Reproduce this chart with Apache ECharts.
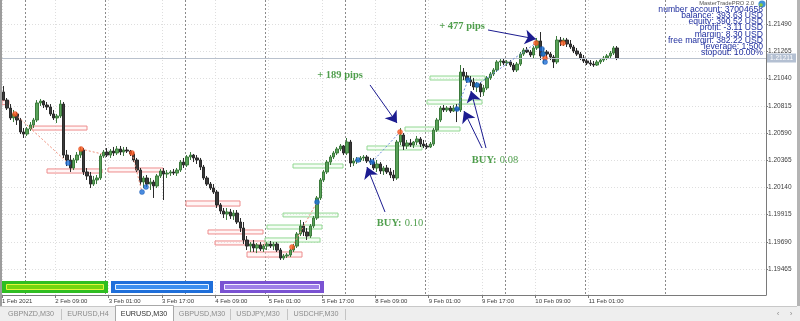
<!DOCTYPE html>
<html><head><meta charset="utf-8">
<script src="https://cdn.jsdelivr.net/npm/echarts@6/dist/echarts.min.js"></script>
<style>html,body{margin:0;padding:0;background:#fff;overflow:hidden}#c{width:800px;height:321px}</style>
</head><body><div id="c"></div>
<script>
// ---- data (EURUSD, hourly slots) ----
const timeLabels = ['1 Feb 2021','2 Feb 09:00','3 Feb 01:00','3 Feb 17:00','4 Feb 09:00','5 Feb 01:00','5 Feb 17:00','8 Feb 09:00','9 Feb 01:00','9 Feb 17:00','10 Feb 09:00','11 Feb 01:00'];
const labelSlots = [-0.5,15.5,31.5,47.5,63.5,79.5,95.5,111.5,127.5,143.5,159.5,175.5];
const daySeparators = [6.5,30.5,54.5,78.5,102.5,126.5,150.5,174.5,198.5];
const priceTicks = [1.19465,1.19690,1.19915,1.20140,1.20365,1.20590,1.20815,1.21040,1.21265,1.21490];
const lastPrice = 1.21211;

const opens = [1.20930,1.20863,1.20797,1.20715,1.20748,1.20698,1.20599,1.20582,1.20624,1.20657,
1.20698,1.20839,1.20855,1.20822,1.20806,1.20748,1.20715,1.20731,1.20830,1.20408,
1.20367,1.20301,1.20367,1.20408,1.20450,1.20268,1.20235,1.20168,1.20202,1.20218,
1.20400,1.20433,1.20408,1.20441,1.20425,1.20458,1.20433,1.20450,1.20441,1.20417,
1.20367,1.20284,1.20185,1.20218,1.20168,1.20185,1.20152,1.20235,1.20276,1.20251,
1.20259,1.20268,1.20259,1.20284,1.20350,1.20326,1.20392,1.20408,1.20384,1.20367,
1.20309,1.20218,1.20168,1.20135,1.20102,1.19995,1.19945,1.19920,1.19937,1.19904,
1.19928,1.19854,1.19804,1.19705,1.19655,1.19672,1.19639,1.19664,1.19631,1.19655,
1.19672,1.19655,1.19672,1.19622,1.19556,1.19573,1.19581,1.19622,1.19655,1.19755,
1.19821,1.19771,1.19738,1.19821,1.19887,1.20053,1.20202,1.20268,1.20350,1.20392,
1.20425,1.20458,1.20483,1.20425,1.20516,1.20342,1.20359,1.20367,1.20384,1.20392,
1.20359,1.20350,1.20301,1.20334,1.20276,1.20301,1.20268,1.20243,1.20218,1.20516,
1.20574,1.20483,1.20508,1.20491,1.20516,1.20541,1.20499,1.20483,1.20475,1.20499,
1.20615,1.20698,1.20797,1.20781,1.20797,1.20772,1.20797,1.20781,1.21095,1.21062,
1.21029,1.21012,1.20971,1.20996,1.20930,1.20963,1.21046,1.21079,1.21112,1.21178,
1.21186,1.21170,1.21178,1.21153,1.21112,1.21161,1.21244,1.21277,1.21261,1.21236,
1.21294,1.21352,1.21228,1.21261,1.21244,1.21219,1.21178,1.21360,1.21343,1.21360,
1.21327,1.21302,1.21269,1.21244,1.21211,1.21186,1.21170,1.21161,1.21153,1.21178,
1.21194,1.21211,1.21228,1.21252,1.21294];

const closes = [1.20863,1.20797,1.20715,1.20748,1.20698,1.20599,1.20582,1.20624,1.20657,1.20698,
1.20839,1.20855,1.20822,1.20806,1.20748,1.20715,1.20731,1.20830,1.20408,1.20367,
1.20301,1.20367,1.20408,1.20450,1.20268,1.20235,1.20168,1.20202,1.20218,1.20400,
1.20433,1.20408,1.20441,1.20425,1.20458,1.20433,1.20450,1.20441,1.20417,1.20367,
1.20284,1.20185,1.20218,1.20168,1.20185,1.20152,1.20235,1.20276,1.20251,1.20259,
1.20268,1.20259,1.20284,1.20350,1.20326,1.20392,1.20408,1.20384,1.20367,1.20309,
1.20218,1.20168,1.20135,1.20102,1.19995,1.19945,1.19920,1.19937,1.19904,1.19928,
1.19854,1.19804,1.19705,1.19655,1.19672,1.19639,1.19664,1.19631,1.19655,1.19672,
1.19655,1.19672,1.19622,1.19556,1.19573,1.19581,1.19622,1.19655,1.19755,1.19821,
1.19771,1.19738,1.19821,1.19887,1.20053,1.20202,1.20268,1.20350,1.20392,1.20425,
1.20458,1.20483,1.20425,1.20516,1.20342,1.20359,1.20367,1.20384,1.20392,1.20359,
1.20350,1.20301,1.20334,1.20276,1.20301,1.20268,1.20243,1.20218,1.20516,1.20574,
1.20483,1.20508,1.20491,1.20516,1.20541,1.20499,1.20483,1.20475,1.20499,1.20615,
1.20698,1.20797,1.20781,1.20797,1.20772,1.20797,1.20781,1.21095,1.21062,1.21029,
1.21012,1.20971,1.20996,1.20930,1.20963,1.21046,1.21079,1.21112,1.21178,1.21186,
1.21170,1.21178,1.21153,1.21112,1.21161,1.21244,1.21277,1.21261,1.21236,1.21294,
1.21352,1.21228,1.21261,1.21244,1.21219,1.21178,1.21360,1.21343,1.21360,1.21327,
1.21302,1.21269,1.21244,1.21211,1.21186,1.21170,1.21161,1.21153,1.21178,1.21194,
1.21211,1.21228,1.21252,1.21294,1.21211];

const highs = [1.20979,1.20880,1.20830,1.20781,1.20764,1.20715,1.20632,1.20640,1.20681,1.20715,
1.20863,1.20872,1.20863,1.20847,1.20830,1.20781,1.20748,1.20863,1.20847,1.20450,
1.20408,1.20384,1.20433,1.20475,1.20466,1.20301,1.20268,1.20235,1.20243,1.20417,
1.20450,1.20466,1.20458,1.20475,1.20483,1.20483,1.20475,1.20475,1.20450,1.20433,
1.20384,1.20301,1.20235,1.20243,1.20218,1.20202,1.20251,1.20293,1.20301,1.20284,
1.20284,1.20293,1.20301,1.20367,1.20384,1.20408,1.20433,1.20417,1.20408,1.20384,
1.20326,1.20235,1.20185,1.20168,1.20119,1.20011,1.19970,1.19970,1.19962,1.19953,
1.19953,1.19887,1.19854,1.19738,1.19688,1.19705,1.19680,1.19688,1.19672,1.19688,
1.19697,1.19688,1.19688,1.19639,1.19589,1.19597,1.19631,1.19672,1.19771,1.19871,
1.19854,1.19804,1.19837,1.19904,1.20069,1.20218,1.20284,1.20367,1.20408,1.20441,
1.20475,1.20499,1.20491,1.20549,1.20533,1.20384,1.20392,1.20400,1.20408,1.20408,
1.20384,1.20384,1.20367,1.20350,1.20317,1.20326,1.20301,1.20284,1.20533,1.20632,
1.20590,1.20533,1.20541,1.20524,1.20566,1.20557,1.20533,1.20508,1.20516,1.20632,
1.20715,1.20814,1.20822,1.20814,1.20814,1.20822,1.20830,1.21153,1.21128,1.21095,
1.21062,1.21046,1.21012,1.21012,1.20988,1.21062,1.21095,1.21128,1.21194,1.21211,
1.21203,1.21194,1.21194,1.21170,1.21178,1.21261,1.21294,1.21302,1.21277,1.21310,
1.21377,1.21426,1.21294,1.21277,1.21261,1.21236,1.21393,1.21385,1.21377,1.21377,
1.21360,1.21319,1.21294,1.21261,1.21236,1.21203,1.21194,1.21186,1.21194,1.21211,
1.21228,1.21244,1.21269,1.21310,1.21310];

const lows = [1.20863,1.20781,1.20698,1.20681,1.20657,1.20582,1.20549,1.20566,1.20607,1.20632,
1.20681,1.20814,1.20797,1.20781,1.20731,1.20698,1.20673,1.20715,1.20384,1.20317,
1.20268,1.20284,1.20342,1.20384,1.20243,1.20202,1.20135,1.20152,1.20168,1.20202,
1.20384,1.20392,1.20384,1.20400,1.20408,1.20408,1.20400,1.20425,1.20400,1.20350,
1.20268,1.20160,1.20135,1.20144,1.20119,1.20053,1.20135,1.20218,1.20036,1.20218,
1.20235,1.20243,1.20235,1.20268,1.20301,1.20309,1.20367,1.20350,1.20334,1.20284,
1.20202,1.20152,1.20119,1.20086,1.19970,1.19920,1.19887,1.19871,1.19879,1.19871,
1.19837,1.19771,1.19672,1.19622,1.19606,1.19606,1.19597,1.19614,1.19606,1.19622,
1.19639,1.19622,1.19606,1.19540,1.19540,1.19556,1.19564,1.19606,1.19639,1.19738,
1.19738,1.19705,1.19722,1.19804,1.19871,1.20036,1.20185,1.20251,1.20326,1.20375,
1.20408,1.20441,1.20408,1.20408,1.20309,1.20317,1.20334,1.20350,1.20359,1.20342,
1.20326,1.20284,1.20268,1.20251,1.20243,1.20251,1.20218,1.20193,1.20202,1.20491,
1.20450,1.20458,1.20475,1.20466,1.20491,1.20475,1.20466,1.20458,1.20466,1.20483,
1.20599,1.20681,1.20764,1.20764,1.20756,1.20764,1.20681,1.20764,1.21029,1.21004,
1.20979,1.20946,1.20930,1.20888,1.20897,1.20946,1.21029,1.21062,1.21095,1.21145,
1.21153,1.21145,1.21137,1.21095,1.21095,1.21145,1.21228,1.21252,1.21219,1.21211,
1.21277,1.21194,1.21161,1.21211,1.21194,1.21128,1.21161,1.21310,1.21310,1.21302,
1.21286,1.21252,1.21228,1.21194,1.21170,1.21153,1.21145,1.21137,1.21145,1.21161,
1.21178,1.21194,1.21211,1.21236,1.21194];

// drawn objects, in [slot, price] units
const sellZones = [[-0.5,1.20858,1.6,1.20825],[8.5,1.20648,25,1.20615],[13,1.20293,29.5,1.20259],[31.3,1.20301,47.8,1.20268],
  [54.7,1.20028,70.9,1.19986],[61.3,1.19788,77.8,1.19755],[63.4,1.19697,78.4,1.19664],[73,1.19606,89.5,1.19564]];
const buyZones = [[86.8,1.20334,101.8,1.20301],[83.8,1.19928,100.3,1.19896],[79,1.19829,95.5,1.19796],[78.4,1.19722,94.9,1.19688],
  [109,1.20483,125.5,1.20450],[120.4,1.20640,136.9,1.20607],[127,1.20863,143.5,1.20830],[127.9,1.21062,144.4,1.21029]];
const sellDots = [[3.4,1.20748],[23.2,1.20458],[38.5,1.20425],[86.5,1.19647],[118.9,1.20599],[159.7,1.21335],[162.4,1.21211],[167.8,1.21335]];
const buyDots = [[19.3,1.20342],[41.5,1.20102],[42.7,1.20144],[94,1.20019],[106.3,1.20367],[110.5,1.20350],[136,1.20789],[139.3,1.21029],[142,1.20988],[161.5,1.21286],[161.8,1.21244],[162.4,1.21178]];
const sellTradeLines = [[3.4,1.20748,19.3,1.20342],[23.2,1.20458,29.5,1.20417],[38.5,1.20425,41.5,1.20102],[86.5,1.19647,94,1.20019]];
const buyTradeLines = [[110.5,1.20350,118.9,1.20599],[136,1.20789,139.3,1.21029],[142,1.20988,159.7,1.21335]];
const arrows = [[109.9,1.20988,118,1.20673],[145.3,1.21443,159.7,1.21368],[114.4,1.19937,109,1.20309],[143.5,1.20466,138.1,1.20772],[144.7,1.20466,140.2,1.20938]];
const noteSlots = [100.9,137.5,118.9,147.4];
const notePrices = [1.21070,1.21476,1.19846,1.20367];
const noteTexts = ['{b|+ 189 pips}','{b|+ 477 pips}','{b|BUY:} {n|0.10}','{b|BUY:} {n|0.08}'];

const accountLines = ['number account: 37004658','balance: 393.63 USD','equity: 390.52 USD','profit: -3.11 USD','margin: 8.30 USD','free margin: 382.22 USD','leverage: 1:500','stopout: 10.00%'];
const panelTitle = 'MasterTradePRO 2.0';
const tabNames = ['GBPNZD,M30','EURUSD,H4','EURUSD,M30','GBPUSD,M30','USDJPY,M30','USDCHF,M30'];
const activeTab = 2;

// ---- chart ----
const chart = echarts.init(document.getElementById('c'), null, {renderer:'canvas'});
const X_MIN = -0.5, X_MAX = 228.7;
const candleData = closes.map((c,i)=>[i, opens[i], c, lows[i], highs[i]]);
const zoneItems = (zs, fill, stroke) => zs.map(z => [
  {coord:[z[0],z[1]], itemStyle:{color:fill, borderColor:stroke, borderWidth:1}},
  {coord:[z[2],z[3]]}]);
const segItems = ls => ls.map(l => [{coord:[l[0],l[1]]},{coord:[l[2],l[3]]}]);

// layout constants (pixels)
const tabCenters = [31,88,144,202,258,316];
const tabSeps = [61,230,287,345];
const graphics = [];
graphics.push({type:'rect', shape:{x:0,y:0,width:2,height:306}, style:{fill:'#9c9c9c'}, z:100});
graphics.push({type:'rect', shape:{x:797,y:0,width:3,height:321}, style:{fill:'#b4b4b4'}, z:100});
graphics.push({type:'rect', shape:{x:0,y:306,width:800,height:15}, style:{fill:'#eeeeee'}, z:100});
graphics.push({type:'line', shape:{x1:0,y1:306.5,x2:797,y2:306.5}, style:{stroke:'#c8c8c8',lineWidth:1}, z:101});
graphics.push({type:'rect', shape:{x:115.5,y:305.5,width:58,height:16}, style:{fill:'#ffffff',stroke:'#a8a8a8',lineWidth:1}, z:102});
tabSeps.forEach(x => graphics.push({type:'line', shape:{x1:x+0.5,y1:309,x2:x+0.5,y2:320}, style:{stroke:'#c4c4c4',lineWidth:1}, z:101}));
tabNames.forEach((t,i) => graphics.push({type:'text', x:tabCenters[i], y:314, z:103,
  style:{text:t, font:'7.2px "Liberation Sans"', fill: i===activeTab?'#303030':'#8c8c8c', align:'center', verticalAlign:'middle'}}));
graphics.push({type:'text', x:778, y:314, z:103, style:{text:'‹', font:'8px "Liberation Sans"', fill:'#909090', align:'center', verticalAlign:'middle'}});
graphics.push({type:'text', x:791, y:314, z:103, style:{text:'›', font:'8px "Liberation Sans"', fill:'#909090', align:'center', verticalAlign:'middle'}});
// session buttons
const btns = [[2,106,'#2fbe22','#74d60e','#e4f53c'],[111,102,'#1f6fda','#3c8ff0','#e6f2ff'],[220,104,'#7a52d2','#9e80e8','#f2eeff']];
btns.forEach(b => {
  graphics.push({type:'rect', shape:{x:b[0],y:281,width:b[1],height:12}, style:{fill:b[2]}, z:90});
  graphics.push({type:'rect', shape:{x:b[0]+4.5,y:284.5,width:b[1]-9,height:5}, style:{fill:b[3],stroke:b[4],lineWidth:1}, z:91});
});
// account panel
graphics.push({type:'text', x:754, y:3.5, z:95, style:{text:panelTitle, font:'5.8px "Liberation Sans"', fill:'#555', align:'right', verticalAlign:'middle'}});
graphics.push({type:'circle', shape:{cx:762,cy:4,r:3.6}, style:{fill:'#3f93d8'}, z:95});
graphics.push({type:'circle', shape:{cx:761,cy:5,r:1.8}, style:{fill:'#8acb3c'}, z:96});
accountLines.forEach((t,k) => graphics.push({type:'text', x:763, y:9.6+6.15*k, z:95,
  style:{text:t, font:'8.6px "Liberation Sans"', fill:'#1f2e9e', align:'right', verticalAlign:'middle'}}));

chart.setOption({
  animation:false,
  backgroundColor:'#ffffff',
  grid:{left:2, right:34, top:0, bottom:26, containLabel:false, outerBoundsMode:'none'},
  xAxis:[{
    type:'value', min:X_MIN, max:X_MAX, position:'bottom',
    axisLine:{show:true, onZero:false, lineStyle:{color:'#7a7a7a', width:1}},
    axisTick:{show:true, customValues:labelSlots, length:3, lineStyle:{color:'#7a7a7a'}},
    axisLabel:{show:true, customValues:labelSlots, align:'left', margin:3, fontSize:6, color:'#3c3c3c', fontFamily:'Liberation Sans',
      formatter: v => timeLabels[Math.round((v + 0.5) / 16)] || ''},
    splitLine:{show:true, lineStyle:{color:'#dedede', width:1, type:[1,2]}}
  },{
    type:'value', min:X_MIN, max:X_MAX, position:'top',
    axisLine:{show:false}, axisLabel:{show:false},
    axisTick:{show:false, customValues:daySeparators},
    splitLine:{show:true, lineStyle:{color:'#8a8a8a', width:1, type:[2,2]}}
  }],
  yAxis:{
    type:'value', position:'right', min:1.19250, max:1.21691,
    axisLine:{show:true, onZero:false, lineStyle:{color:'#7a7a7a', width:1}},
    axisTick:{show:true, customValues:priceTicks, length:2, lineStyle:{color:'#7a7a7a'}},
    axisLabel:{show:true, customValues:priceTicks, margin:2, fontSize:6.5, color:'#3c3c3c', fontFamily:'Liberation Sans',
      formatter: v => v.toFixed(5)},
    splitLine:{show:true, lineStyle:{color:'#dedede', width:1, type:[1,2]}}
  },
  series:[
    {type:'candlestick', name:'EURUSD', data:candleData, barWidth:2.6, z:3,
     itemStyle:{color:'#58a258', color0:'#3a3a3a', borderColor:'#3c7a3c', borderColor0:'#2a2a2a', borderWidth:1}},
    {type:'scatter', name:'bid', data:[], silent:true, z:2,
     markLine:{silent:true, symbol:['none','none'], data:[[{coord:[X_MIN,lastPrice]},{coord:[X_MAX,lastPrice]}]],
       lineStyle:{color:'#b9c1cd', width:1, type:'solid'},
       label:{show:true, position:'end', distance:1, formatter: lastPrice.toFixed(5), color:'#ffffff', backgroundColor:'#b4c0d2',
         fontSize:6.5, fontFamily:'Liberation Sans', padding:[1,3,1,3]}}},
    {type:'scatter', name:'sell', data:sellDots, symbolSize:5, z:6, silent:true,
     itemStyle:{color:'#ff5a20', borderColor:'#d2401a', borderWidth:0.5},
     markArea:{silent:true, data:zoneItems(sellZones,'rgba(255,225,225,0.35)','#ee8c8c')},
     markLine:{silent:true, symbol:['none','none'], label:{show:false}, lineStyle:{color:'#f0907c', width:1, type:[2,2]}, data:segItems(sellTradeLines)}},
    {type:'scatter', name:'buy', data:buyDots, symbolSize:5, z:6, silent:true,
     itemStyle:{color:'#1d6fd8', borderColor:'#1450a8', borderWidth:0.5},
     markArea:{silent:true, data:zoneItems(buyZones,'rgba(225,248,225,0.35)','#92d892')},
     markLine:{silent:true, symbol:['none','none'], label:{show:false}, lineStyle:{color:'#6b8ad8', width:1, type:[2,2]}, data:segItems(buyTradeLines)}},
    {type:'scatter', name:'notes', symbolSize:0, z:8, silent:true,
     data: noteSlots.map((x,i)=>({value:[x, notePrices[i]], label:{formatter:noteTexts[i]}})),
     label:{show:true, position:'inside', rich:{
       b:{fontFamily:'Liberation Serif', fontWeight:'bold', fontSize:10.5, color:'#23861f'},
       n:{fontFamily:'Liberation Serif', fontWeight:'normal', fontSize:10.5, color:'#23861f'}}},
     markLine:{silent:true, symbol:['none','arrow'], symbolSize:11, label:{show:false},
       itemStyle:{color:'#1c1c90'},
       lineStyle:{color:'#1c1c90', width:1, type:'solid'}, data:segItems(arrows)}}
  ],
  graphic: graphics
});
</script>
</body></html>
